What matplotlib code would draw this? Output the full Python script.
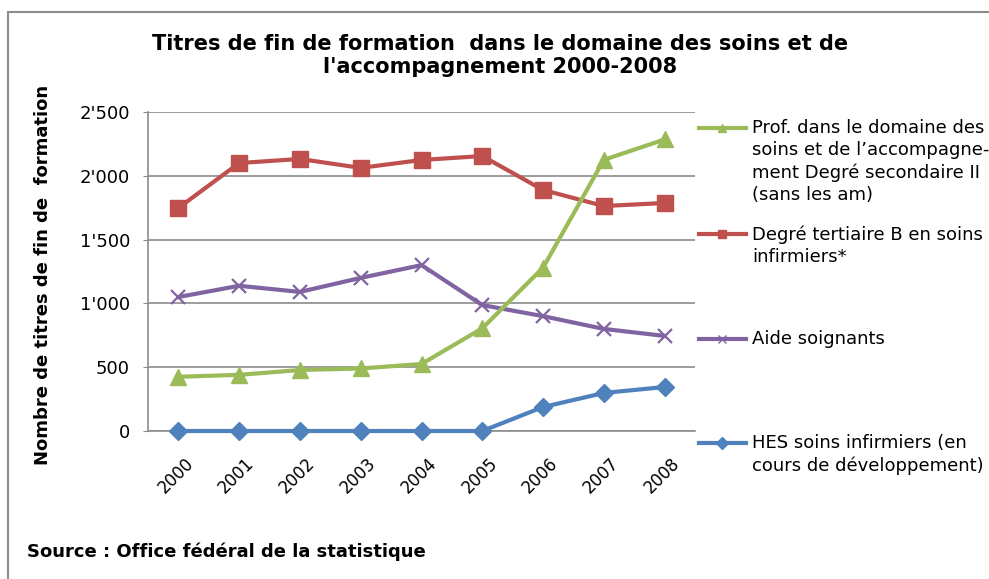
import numpy as np
import matplotlib.pyplot as plt
from matplotlib.patches import Rectangle
from matplotlib.ticker import FuncFormatter
import matplotlib.transforms as mtransforms

years = ["2000", "2001", "2002", "2003", "2004", "2005", "2006", "2007", "2008"]

prof_sec2 = [425, 440, 478, 490, 525, 805, 1280, 2125, 2285]
tertiaire_b = [1748, 2100, 2132, 2062, 2124, 2155, 1889, 1763, 1787]
aide_soignants = [1050, 1138, 1090, 1200, 1300, 987, 900, 800, 745]
hes = [0, 0, 0, 0, 0, 0, 188, 298, 345]

labels = [
    "Prof. dans le domaine des\nsoins et de l\u2019accompagne-\nment Degré secondaire II\n(sans les am)",
    "Degré tertiaire B en soins\ninfirmiers*",
    "Aide soignants",
    "HES soins infirmiers (en\ncours de développement)",
]
colors = ["#9BBB59", "#C0504D", "#8064A2", "#4F81BD"]
markers = ["^", "s", "x", "D"]
msizes = [11, 11, 10, 9]
series = [prof_sec2, tertiaire_b, aide_soignants, hes]

W, H = 989, 579
fig = plt.figure(figsize=(W / 100, H / 100), dpi=100)
plt.rcParams['font.family'] = ['DejaVu Sans']

def fx(px):
    return px / W

def fy(py):
    return 1 - py / H

# outer frame
fig.add_artist(Rectangle((fx(8), -0.05), 1.1, fy(12) + 0.05, transform=fig.transFigure,
                         fill=False, edgecolor="#8c8c8c", linewidth=1.5))

ax = fig.add_axes([fx(148), fy(431), fx(695) - fx(148), fy(112) - fy(431)])
x = np.arange(len(years))

# blue under, green on top
for i in [3, 2, 1, 0]:
    mew = 1.6 if markers[i] == "x" else 1
    ax.plot(x, series[i], color=colors[i], linewidth=3, marker=markers[i],
            markersize=msizes[i], markeredgewidth=mew, markeredgecolor=colors[i],
            clip_on=False, zorder=3 + (3 - i))

ax.set_xlim(-0.5, len(years) - 0.5)
ax.set_ylim(0, 2500)
ax.set_yticks(np.arange(0, 2501, 500))
ax.yaxis.set_major_formatter(FuncFormatter(lambda v, p: f"{int(v):,}".replace(",", "'")))
ax.grid(axis="y", color="#8c8c8c", linewidth=1.2)
ax.set_axisbelow(True)
for s in ["top", "right"]:
    ax.spines[s].set_visible(False)
for s in ["left", "bottom"]:
    ax.spines[s].set_color("#8c8c8c")
    ax.spines[s].set_linewidth(1.2)
ax.tick_params(axis="y", direction="out", length=3.5, color="#8c8c8c", labelsize=13, pad=9.5)
ax.tick_params(axis="x", length=0, labelsize=12, pad=17)
ax.set_xticks(x)
offset = mtransforms.ScaledTranslation(6 / 100, 0, fig.dpi_scale_trans)
ax.set_xticklabels(years, rotation=45, ha="right", va="top", rotation_mode="anchor")
for lab in ax.get_xticklabels():
    lab.set_transform(lab.get_transform() + offset)

ax.set_ylabel("Nombre de titres de fin de  formation", fontsize=13, fontweight="bold")
ax.yaxis.set_label_coords((52 - 148) / 547, 0.49)

fig.text(fx(500), fy(34), "Titres de fin de formation  dans le domaine des soins et de\nl'accompagnement 2000-2008",
         ha="center", va="top", fontsize=15, fontweight="bold", linespacing=1.2)

fig.text(fx(27), fy(552), "Source : Office fédéral de la statistique", ha="left", va="center",
         fontsize=13, fontweight="bold")

# legend, drawn by hand to keep the handle on the first text line
leg_y = [128, 234, 339, 443]
for i in range(4):
    yy = fy(leg_y[i])
    ax.plot([fx(699), fx(722), fx(746)], [yy, yy, yy], transform=fig.transFigure,
            color=colors[i], linewidth=3, marker=markers[i], markevery=[1],
            markersize=6, markeredgecolor=colors[i], clip_on=False)
    fig.text(fx(752), yy + 9 / H, labels[i], ha="left", va="top",
             fontsize=13, linespacing=1.3)

fig.savefig("out.png", dpi=100)
